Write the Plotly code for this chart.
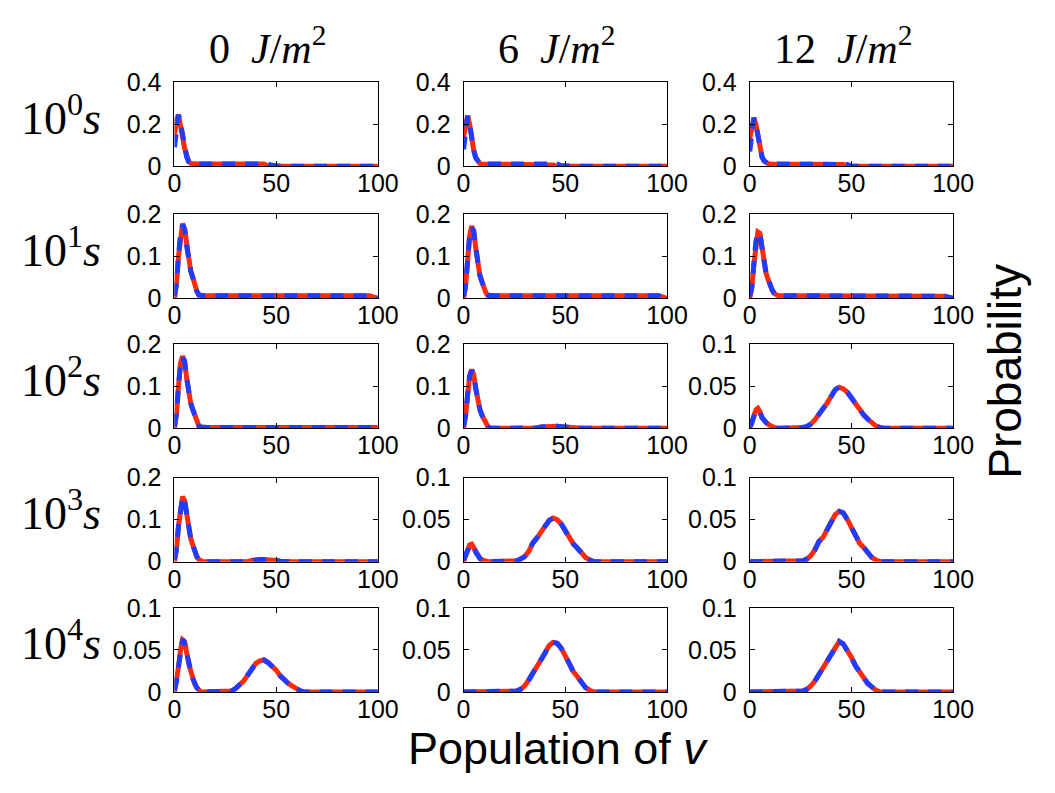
import plotly.graph_objects as go

# Population grid (number of v molecules) at which the distributions are sampled
population = [0, 1, 2, 3, 4, 5, 6, 7, 8, 9, 10, 11, 12, 13, 14,
              16, 18, 20, 22, 24, 26, 28, 30, 32, 34, 36, 38, 40, 42, 44,
              46, 48, 50, 52, 54, 56, 58, 60, 62, 64, 66,
              70, 80, 90, 94, 96, 98, 100]

dose_labels = ["0", "6", "12"]          # J/m^2
time_exponents = ["0", "1", "2", "3", "4"]  # 10^k s

x_tickvals = [0, 50, 100]
x_ticktext = ["0", "50", "100"]

# y-axis upper limits for each (time, dose) panel
y_top = [[0.4, 0.4, 0.4],
         [0.2, 0.2, 0.2],
         [0.2, 0.2, 0.1],
         [0.2, 0.1, 0.1],
         [0.1, 0.1, 0.1]]

y_ticks_04 = [0, 0.2, 0.4]
y_ticks_02 = [0, 0.1, 0.2]
y_ticks_01 = [0, 0.05, 0.1]
y_text_04 = ["0", "0.2", "0.4"]
y_text_02 = ["0", "0.1", "0.2"]
y_text_01 = ["0", "0.05", "0.1"]

# ---- 10^0 s ----
red_t0_d0 = [0.15, 0.22, 0.245, 0.205, 0.14, 0.085, 0.045, 0.022, 0.013, 0.010, 0.010, 0.010, 0.010, 0.010, 0.010,
             0.010, 0.010, 0.010, 0.010, 0.010, 0.010, 0.010, 0.010, 0.010, 0.010, 0.010, 0.010, 0.010, 0.010, 0.010,
             0, 0, 0, 0, 0, 0, 0, 0, 0, 0, 0,
             0, 0, 0, 0, 0, 0, 0]
blue_t0_d0 = [0.09, 0.20, 0.245, 0.205, 0.14, 0.085, 0.045, 0.022, 0.013, 0.010, 0.010, 0.010, 0.010, 0.010, 0.010,
              0.010, 0.010, 0.010, 0.010, 0.010, 0.010, 0.010, 0.010, 0.010, 0.010, 0.010, 0.010, 0.010, 0.010, 0.010,
              0.010, 0.004, 0, 0, 0, 0, 0, 0, 0, 0, 0,
              0, 0, 0, 0, 0, 0, 0]
red_t0_d1 = [0.14, 0.21, 0.24, 0.20, 0.13, 0.075, 0.04, 0.02, 0.012, 0.010, 0.010, 0.010, 0.010, 0.010, 0.010,
             0.010, 0.010, 0.010, 0.010, 0.010, 0.010, 0.010, 0.010, 0.010, 0.010, 0.010, 0.010, 0.010, 0.010, 0.006,
             0, 0, 0, 0, 0, 0, 0, 0, 0, 0, 0,
             0, 0, 0, 0, 0, 0, 0]
blue_t0_d1 = [0.08, 0.19, 0.24, 0.20, 0.13, 0.075, 0.04, 0.02, 0.012, 0.010, 0.010, 0.010, 0.010, 0.010, 0.010,
              0.010, 0.010, 0.010, 0.010, 0.010, 0.010, 0.010, 0.010, 0.010, 0.010, 0.010, 0.010, 0.010, 0.010, 0.010,
              0.010, 0.003, 0, 0, 0, 0, 0, 0, 0, 0, 0,
              0, 0, 0, 0, 0, 0, 0]
red_t0_d2 = [0.13, 0.20, 0.23, 0.20, 0.14, 0.08, 0.045, 0.025, 0.015, 0.012, 0.010, 0.010, 0.010, 0.010, 0.010,
             0.010, 0.010, 0.010, 0.010, 0.010, 0.010, 0.010, 0.010, 0.010, 0.010, 0.010, 0.010, 0.010, 0.010, 0.010,
             0.008, 0, 0, 0, 0, 0, 0, 0, 0, 0, 0,
             0, 0, 0, 0, 0, 0, 0]
blue_t0_d2 = [0.07, 0.18, 0.23, 0.20, 0.14, 0.08, 0.045, 0.025, 0.015, 0.012, 0.010, 0.010, 0.010, 0.010, 0.010,
              0.010, 0.010, 0.010, 0.010, 0.010, 0.010, 0.010, 0.010, 0.010, 0.010, 0.010, 0.010, 0.010, 0.010, 0.010,
              0.010, 0.008, 0, 0, 0, 0, 0, 0, 0, 0, 0,
              0, 0, 0, 0, 0, 0, 0]

# ---- 10^1 s ----
red_t1_d0 = [0, 0.035, 0.10, 0.155, 0.178, 0.165, 0.125, 0.085, 0.065, 0.05, 0.032, 0.017, 0.008, 0.006, 0.006,
             0.006, 0.006, 0.006, 0.006, 0.006, 0.006, 0.006, 0.006, 0.006, 0.006, 0.006, 0.006, 0.006, 0.006, 0.006,
             0.006, 0.006, 0.006, 0.006, 0.006, 0.006, 0.006, 0.006, 0.006, 0.006, 0.006,
             0.006, 0.006, 0.006, 0.006, 0.006, 0.003, 0]
blue_t1_d0 = [0.005, 0.035, 0.10, 0.155, 0.175, 0.165, 0.125, 0.085, 0.065, 0.05, 0.032, 0.017, 0.008, 0.006, 0.006,
              0.006, 0.006, 0.006, 0.006, 0.006, 0.006, 0.006, 0.006, 0.006, 0.006, 0.006, 0.006, 0.006, 0.006, 0.006,
              0.006, 0.006, 0.006, 0.006, 0.006, 0.006, 0.006, 0.006, 0.006, 0.006, 0.006,
              0.006, 0.006, 0.006, 0.006, 0.006, 0.003, 0]
red_t1_d1 = [0, 0.03, 0.09, 0.15, 0.172, 0.16, 0.12, 0.075, 0.055, 0.04, 0.025, 0.013, 0.007, 0.006, 0.006,
             0.006, 0.006, 0.006, 0.006, 0.006, 0.006, 0.006, 0.006, 0.006, 0.006, 0.006, 0.006, 0.006, 0.006, 0.006,
             0.006, 0.006, 0.006, 0.006, 0.006, 0.006, 0.006, 0.006, 0.006, 0.006, 0.006,
             0.006, 0.006, 0.006, 0.006, 0.006, 0.003, 0]
blue_t1_d1 = [0.005, 0.03, 0.09, 0.15, 0.168, 0.16, 0.12, 0.075, 0.055, 0.04, 0.025, 0.013, 0.007, 0.006, 0.006,
              0.006, 0.006, 0.006, 0.006, 0.006, 0.006, 0.006, 0.006, 0.006, 0.006, 0.006, 0.006, 0.006, 0.006, 0.006,
              0.006, 0.006, 0.006, 0.006, 0.006, 0.006, 0.006, 0.006, 0.006, 0.006, 0.006,
              0.006, 0.006, 0.006, 0.006, 0.006, 0.003, 0]
red_t1_d2 = [0, 0.025, 0.08, 0.135, 0.158, 0.155, 0.12, 0.08, 0.06, 0.045, 0.03, 0.02, 0.012, 0.008, 0.006,
             0.006, 0.006, 0.006, 0.006, 0.006, 0.006, 0.006, 0.006, 0.006, 0.006, 0.006, 0.006, 0.006, 0.006, 0.006,
             0.006, 0.006, 0.006, 0.006, 0.006, 0.006, 0.006, 0.006, 0.006, 0.006, 0.006,
             0.006, 0.006, 0.006, 0.006, 0.005, 0.002, 0]
blue_t1_d2 = [0.005, 0.025, 0.08, 0.135, 0.155, 0.155, 0.12, 0.08, 0.06, 0.045, 0.03, 0.02, 0.012, 0.008, 0.006,
              0.006, 0.006, 0.006, 0.006, 0.006, 0.006, 0.006, 0.006, 0.006, 0.006, 0.006, 0.006, 0.006, 0.006, 0.006,
              0.006, 0.006, 0.006, 0.006, 0.006, 0.006, 0.006, 0.006, 0.006, 0.006, 0.006,
              0.006, 0.006, 0.006, 0.006, 0.005, 0.002, 0]

# ---- 10^2 s ----
red_t2_d0 = [0, 0.035, 0.10, 0.155, 0.172, 0.16, 0.12, 0.08, 0.06, 0.045, 0.03, 0.015, 0.006, 0.003, 0.002,
             0.002, 0.002, 0.002, 0.002, 0.002, 0.002, 0.002, 0.002, 0.002, 0.002, 0.002, 0.002, 0.002, 0.002, 0.002,
             0.002, 0.002, 0.002, 0.002, 0.002, 0.002, 0.002, 0.002, 0.002, 0.002, 0.002,
             0.002, 0.002, 0.002, 0.002, 0.002, 0.002, 0.002]
blue_t2_d0 = [0.005, 0.035, 0.10, 0.155, 0.168, 0.16, 0.12, 0.08, 0.06, 0.045, 0.03, 0.015, 0.006, 0.003, 0.002,
              0.002, 0.002, 0.002, 0.002, 0.002, 0.002, 0.002, 0.002, 0.002, 0.002, 0.002, 0.002, 0.002, 0.002, 0.002,
              0.002, 0.002, 0.002, 0.002, 0.002, 0.002, 0.002, 0.002, 0.002, 0.002, 0.002,
              0.002, 0.002, 0.002, 0.002, 0.002, 0.002, 0.002]
red_t2_d1 = [0, 0.03, 0.08, 0.125, 0.14, 0.128, 0.095, 0.06, 0.045, 0.032, 0.02, 0.01, 0.004, 0.001, 0,
             0, 0, 0, 0, 0, 0, 0, 0, 0, 0, 0.001, 0.003, 0.004, 0.005, 0.005,
             0.005, 0.004, 0.003, 0.001, 0, 0, 0, 0, 0, 0, 0,
             0, 0, 0, 0, 0, 0, 0]
blue_t2_d1 = [0.005, 0.03, 0.08, 0.125, 0.138, 0.128, 0.095, 0.06, 0.045, 0.032, 0.02, 0.01, 0.004, 0.001, 0,
              0, 0, 0, 0, 0, 0, 0, 0, 0, 0, 0.001, 0.003, 0.004, 0.005, 0.005,
              0.005, 0.004, 0.003, 0.001, 0, 0, 0, 0, 0, 0, 0,
              0, 0, 0, 0, 0, 0, 0]
red_t2_d2 = [0, 0.006, 0.015, 0.022, 0.024, 0.020, 0.013, 0.009, 0.007, 0.005, 0.003, 0.002, 0.001, 0, 0,
             0, 0, 0, 0, 0, 0.001, 0.002, 0.005, 0.010, 0.016, 0.022, 0.030, 0.038, 0.046, 0.049,
             0.047, 0.043, 0.036, 0.028, 0.021, 0.016, 0.011, 0.006, 0.003, 0.001, 0,
             0, 0, 0, 0, 0, 0, 0]
blue_t2_d2 = [0.002, 0.006, 0.014, 0.020, 0.022, 0.019, 0.013, 0.009, 0.007, 0.005, 0.003, 0.002, 0.001, 0, 0,
              0, 0, 0, 0, 0, 0.001, 0.002, 0.005, 0.010, 0.016, 0.022, 0.030, 0.038, 0.046, 0.049,
              0.047, 0.043, 0.036, 0.028, 0.021, 0.016, 0.011, 0.006, 0.003, 0.001, 0,
              0, 0, 0, 0, 0, 0, 0]

# ---- 10^3 s ----
red_t3_d0 = [0, 0.03, 0.085, 0.135, 0.155, 0.145, 0.11, 0.07, 0.055, 0.04, 0.025, 0.012, 0.005, 0.002, 0,
             0, 0, 0, 0, 0, 0, 0, 0, 0, 0, 0, 0.003, 0.005, 0.005, 0.005,
             0.005, 0.005, 0.003, 0.001, 0, 0, 0, 0, 0, 0, 0,
             0, 0, 0, 0, 0, 0, 0]
blue_t3_d0 = [0.005, 0.03, 0.085, 0.135, 0.155, 0.145, 0.11, 0.07, 0.055, 0.04, 0.025, 0.012, 0.005, 0.002, 0,
              0, 0, 0, 0, 0, 0, 0, 0, 0, 0, 0, 0.003, 0.005, 0.005, 0.005,
              0.005, 0.005, 0.003, 0.001, 0, 0, 0, 0, 0, 0, 0,
              0, 0, 0, 0, 0, 0, 0]
red_t3_d1 = [0, 0.006, 0.014, 0.020, 0.021, 0.017, 0.011, 0.007, 0.004, 0.002, 0.001, 0, 0, 0, 0,
             0, 0, 0, 0, 0, 0.001, 0.003, 0.006, 0.012, 0.022, 0.028, 0.034, 0.042, 0.049, 0.052,
             0.050, 0.045, 0.037, 0.028, 0.021, 0.016, 0.010, 0.005, 0.002, 0, 0,
             0, 0, 0, 0, 0, 0, 0]
blue_t3_d1 = [0.002, 0.007, 0.014, 0.019, 0.020, 0.017, 0.011, 0.007, 0.004, 0.002, 0.001, 0, 0, 0, 0,
              0, 0, 0, 0, 0, 0.001, 0.003, 0.006, 0.012, 0.022, 0.028, 0.034, 0.042, 0.049, 0.052,
              0.050, 0.045, 0.037, 0.028, 0.021, 0.016, 0.010, 0.005, 0.002, 0, 0,
              0, 0, 0, 0, 0, 0, 0]
red_t3_d2 = [0, 0, 0, 0, 0, 0, 0, 0, 0, 0, 0, 0, 0, 0, 0,
             0, 0, 0, 0, 0, 0.001, 0.003, 0.007, 0.014, 0.024, 0.029, 0.038, 0.047, 0.056, 0.060,
             0.058, 0.050, 0.040, 0.030, 0.022, 0.017, 0.010, 0.005, 0.002, 0, 0,
             0, 0, 0, 0, 0, 0, 0]
blue_t3_d2 = [0, 0, 0, 0, 0, 0, 0, 0, 0, 0, 0, 0, 0, 0, 0,
              0, 0, 0, 0, 0, 0.001, 0.003, 0.007, 0.014, 0.024, 0.029, 0.038, 0.047, 0.056, 0.060,
              0.058, 0.050, 0.040, 0.030, 0.022, 0.017, 0.010, 0.005, 0.002, 0, 0,
              0, 0, 0, 0, 0, 0, 0]

# ---- 10^4 s ----
red_t4_d0 = [0, 0.012, 0.030, 0.050, 0.062, 0.060, 0.045, 0.034, 0.025, 0.016, 0.009, 0.005, 0.002, 0, 0,
             0, 0, 0, 0, 0, 0, 0.001, 0.004, 0.008, 0.013, 0.020, 0.028, 0.034, 0.037, 0.038,
             0.035, 0.031, 0.026, 0.019, 0.014, 0.010, 0.007, 0.004, 0.001, 0, 0,
             0, 0, 0, 0, 0, 0, 0]
blue_t4_d0 = [0.002, 0.012, 0.030, 0.052, 0.063, 0.058, 0.045, 0.034, 0.025, 0.016, 0.009, 0.005, 0.002, 0, 0,
              0, 0, 0, 0, 0, 0, 0.001, 0.004, 0.008, 0.013, 0.020, 0.028, 0.034, 0.037, 0.038,
              0.035, 0.031, 0.026, 0.019, 0.014, 0.010, 0.007, 0.004, 0.001, 0, 0,
              0, 0, 0, 0, 0, 0, 0]
red_t4_d1 = [0, 0, 0, 0, 0, 0, 0, 0, 0, 0, 0, 0, 0, 0, 0,
             0, 0, 0, 0, 0, 0.001, 0.003, 0.007, 0.014, 0.022, 0.028, 0.037, 0.046, 0.055, 0.059,
             0.058, 0.052, 0.043, 0.033, 0.024, 0.018, 0.011, 0.005, 0.002, 0, 0,
             0, 0, 0, 0, 0, 0, 0]
blue_t4_d1 = [0, 0, 0, 0, 0, 0, 0, 0, 0, 0, 0, 0, 0, 0, 0,
              0, 0, 0, 0, 0, 0.001, 0.003, 0.007, 0.014, 0.022, 0.028, 0.037, 0.046, 0.055, 0.059,
              0.058, 0.052, 0.043, 0.033, 0.024, 0.018, 0.011, 0.005, 0.002, 0, 0,
              0, 0, 0, 0, 0, 0, 0]
red_t4_d2 = [0, 0, 0, 0, 0, 0, 0, 0, 0, 0, 0, 0, 0, 0, 0,
             0, 0, 0, 0, 0, 0.001, 0.003, 0.007, 0.013, 0.021, 0.028, 0.036, 0.045, 0.054, 0.060,
             0.057, 0.050, 0.041, 0.031, 0.023, 0.017, 0.010, 0.005, 0.002, 0, 0,
             0, 0, 0, 0, 0, 0, 0]
blue_t4_d2 = [0, 0, 0, 0, 0, 0, 0, 0, 0, 0, 0, 0, 0, 0, 0,
              0, 0, 0, 0, 0, 0.001, 0.003, 0.007, 0.013, 0.021, 0.028, 0.036, 0.045, 0.054, 0.060,
              0.057, 0.050, 0.041, 0.031, 0.023, 0.017, 0.010, 0.005, 0.002, 0, 0,
              0, 0, 0, 0, 0, 0, 0]

red_series = [[red_t0_d0, red_t0_d1, red_t0_d2],
              [red_t1_d0, red_t1_d1, red_t1_d2],
              [red_t2_d0, red_t2_d1, red_t2_d2],
              [red_t3_d0, red_t3_d1, red_t3_d2],
              [red_t4_d0, red_t4_d1, red_t4_d2]]
blue_series = [[blue_t0_d0, blue_t0_d1, blue_t0_d2],
               [blue_t1_d0, blue_t1_d1, blue_t1_d2],
               [blue_t2_d0, blue_t2_d1, blue_t2_d2],
               [blue_t3_d0, blue_t3_d1, blue_t3_d2],
               [blue_t4_d0, blue_t4_d1, blue_t4_d2]]

# ---- page geometry (pixels) ----
W, H = 1055, 793
col_left = [172, 469, 763]
col_width = 209
row_top = [70.7, 207.7, 342.5, 480.7, 615.7]
row_height = 87


def fx(px):
    return px / W


def fy(py):
    return 1 - py / H


RED = "#ff2a0a"
BLUE = "#1f3dff"
LINE_W = 5
TICK_FONT = dict(family="Liberation Sans, Arial, sans-serif", size=25, color="black")
SERIF = "Liberation Serif, Times New Roman, serif"
SANS = "Liberation Sans, Arial, sans-serif"

fig = go.Figure()
layout = dict(width=W, height=H, margin=dict(l=0, r=0, t=0, b=0, pad=0),
              paper_bgcolor="white", plot_bgcolor="white", showlegend=False)

ticks_for = {0.4: (y_ticks_04, y_text_04), 0.2: (y_ticks_02, y_text_02), 0.1: (y_ticks_01, y_text_01)}

for r in range(5):
    for c in range(3):
        n = r * 3 + c + 1
        suffix = "" if n == 1 else str(n)
        xa, ya = "x" + suffix, "y" + suffix
        fig.add_trace(go.Scatter(x=population, y=red_series[r][c], mode="lines",
                                 line=dict(color=RED, width=LINE_W), xaxis=xa, yaxis=ya,
                                 hoverinfo="skip"))
        fig.add_trace(go.Scatter(x=population, y=blue_series[r][c], mode="lines",
                                 line=dict(color=BLUE, width=LINE_W, dash="13px,10px"),
                                 xaxis=xa, yaxis=ya, hoverinfo="skip"))
        tv, tt = ticks_for[y_top[r][c]]
        common = dict(showline=True, linecolor="black", linewidth=1, mirror="ticks",
                      ticks="inside", ticklen=5, tickwidth=1, tickcolor="black",
                      showgrid=False, zeroline=False, tickfont=TICK_FONT, fixedrange=True)
        layout["xaxis" + suffix] = dict(domain=[fx(col_left[c]), fx(col_left[c] + col_width)],
                                        range=[0, 100], anchor=ya,
                                        tickmode="array", tickvals=x_tickvals, ticktext=x_ticktext,
                                        ticklabelstandoff=-5, **common)
        layout["yaxis" + suffix] = dict(domain=[fy(row_top[r] + row_height), fy(row_top[r])],
                                        range=[0, y_top[r][c]], anchor=xa,
                                        tickmode="array", tickvals=tv, ticktext=tt,
                                        ticklabelstandoff=7, **common)

annotations = []
# dose headers
for c, d in enumerate(dose_labels):
    annotations.append(dict(text=d + "&nbsp;&nbsp;<i>J</i>/<i>m</i><sup>2</sup>",
                            xref="paper", yref="paper",
                            x=fx(col_left[c] + col_width / 2 - 9), y=fy(33),
                            xanchor="center", yanchor="middle", showarrow=False,
                            font=dict(family=SERIF, size=42, color="black")))
# time labels
for r, k in enumerate(time_exponents):
    annotations.append(dict(text="10<sup>" + k + "</sup><i>s</i>", xref="paper", yref="paper",
                            x=fx(55), y=fy(row_top[r] + row_height / 2 - 10),
                            xanchor="center", yanchor="middle", showarrow=False,
                            font=dict(family=SERIF, size=46, color="black")))
annotations.append(dict(text="Population of <i>v</i>", xref="paper", yref="paper",
                        x=fx(566), y=fy(761), xanchor="center", yanchor="middle",
                        showarrow=False, font=dict(family=SANS, size=45, color="black")))
annotations.append(dict(text="Probability", xref="paper", yref="paper", textangle=-90,
                        x=fx(1025), y=fy(370), xanchor="center", yanchor="middle",
                        showarrow=False, font=dict(family=SANS, size=46, color="black")))
layout["annotations"] = annotations

fig.update_layout(**layout)
fig.write_html("out.html")
